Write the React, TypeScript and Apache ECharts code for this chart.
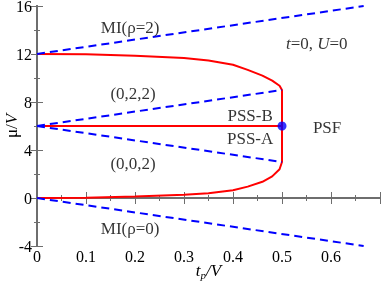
import React, { useEffect, useRef } from "react";
import * as echarts from "echarts";

const xTicks = [0, 0.1, 0.2, 0.3, 0.4, 0.5, 0.6];
const yTicks = [-4, 0, 4, 8, 12, 16];

const redUpper: [number, number][] = [
  [0, 12], [0.1, 11.97], [0.2, 11.86], [0.3, 11.67], [0.35, 11.45], [0.4, 11.1],
  [0.43, 10.68], [0.46, 10.2], [0.48, 9.78], [0.495, 9.35], [0.5, 9.0],
];
const redLower: [number, number][] = [
  [0.5, 3.0], [0.495, 2.4], [0.48, 1.8], [0.46, 1.35], [0.43, 0.95], [0.4, 0.65],
  [0.35, 0.4], [0.3, 0.28], [0.2, 0.12], [0.1, 0.03], [0, 0],
];
const redMiddle: [number, number][] = [[0, 6], [0.5, 6]];

const miRho2: [number, number][] = [[0, 12], [2 / 3, 16]];
const miRho0: [number, number][] = [[0, 0], [2 / 3, -4]];
const pss022: [number, number][] = [[0, 6], [0.5, 9]];
const pss002: [number, number][] = [[0, 6], [0.5, 3]];
const criticalPoint: [number, number][] = [[0.5, 6]];

const annotations: { text: string; pos: [number, number] }[] = [
  { text: "MI(ρ=2)", pos: [0.19, 14.25] },
  { text: "{i|t}=0, {i|U}=0", pos: [0.571, 12.9] },
  { text: "(0,2,2)", pos: [0.196, 8.67] },
  { text: "PSS-B", pos: [0.435, 6.9] },
  { text: "PSS-A", pos: [0.435, 5.0] },
  { text: "PSF", pos: [0.592, 5.9] },
  { text: "(0,0,2)", pos: [0.196, 2.9] },
  { text: "MI(ρ=0)", pos: [0.19, -2.5] },
];

const FONT = "Liberation Serif";
const RED = "#ff0000";
const BLUE = "#0000ff";
const AXIS = "#6e6e6e";

export default function App() {
  const ref = useRef<HTMLDivElement>(null);
  useEffect(() => {
    if (!ref.current) return;
    const chart = echarts.init(ref.current, undefined, { renderer: "svg" });
    const fmtX = (v: number) => {
      if (v > 0.65) return "";
      const found = xTicks.find((t) => Math.abs(t - v) < 1e-6);
      return found === undefined ? "" : found === 0 ? "0" : found.toFixed(1);
    };
    const fmtY = (v: number) => (yTicks.includes(Math.round(v)) ? String(Math.round(v)) : "");
    const axisCommon = {
      axisLine: { show: true, lineStyle: { color: AXIS, width: 2 } },
      axisTick: { show: true, inside: true, length: 6, lineStyle: { color: AXIS, width: 1 } },
      minorTick: { show: true, splitNumber: 2, length: 3, lineStyle: { color: AXIS, width: 1 } },
      splitLine: { show: false },
    };
    const dashed = (data: [number, number][]) => ({
      type: "line",
      data,
      showSymbol: false,
      symbol: "none",
      lineStyle: { color: BLUE, width: 2, type: [8, 5] },
      z: 3,
    });
    const solid = (data: [number, number][]) => ({
      type: "line",
      data,
      showSymbol: false,
      symbol: "none",
      lineStyle: { color: RED, width: 2 },
      z: 2,
    });
    chart.setOption({
      animation: false,
      textStyle: { fontFamily: FONT },
      grid: { left: 37, right: 2, top: 6, bottom: 35, containLabel: false, outerBoundsMode: "none" },
      xAxis: [
        {
          type: "value",
          min: 0,
          max: 0.7,
          interval: 0.1,
          ...axisCommon,
          axisLabel: { color: "#000", fontFamily: FONT, fontSize: 16, margin: 2, formatter: fmtX, showMaxLabel: false },
          name: "{i|t}{s|p}{i|/V}",
          nameLocation: "middle",
          nameGap: 15,
          nameMoveOverlap: false,
          nameTextStyle: {
            fontFamily: FONT,
            rich: {
              i: { fontFamily: FONT, fontStyle: "italic", fontSize: 17, color: "#000" },
              s: { fontFamily: FONT, fontStyle: "italic", fontSize: 11, color: "#000", padding: [8, 0, 0, 0] },
            },
          },
        },
        {
          type: "value",
          position: "top",
          min: 0,
          max: 0.7,
          interval: 0.1,
          ...axisCommon,
          axisLabel: { show: false },
        },
      ],
      yAxis: [
        {
          type: "value",
          min: -4,
          max: 16,
          interval: 4,
          ...axisCommon,
          axisLabel: { color: "#000", fontFamily: FONT, fontSize: 16, margin: 5, formatter: fmtY },
          name: "μ/{i|V}",
          nameLocation: "middle",
          nameGap: 17,
          nameMoveOverlap: false,
          nameRotate: 90,
          nameTextStyle: {
            fontFamily: FONT,
            fontSize: 17,
            color: "#000",
            rich: { i: { fontFamily: FONT, fontStyle: "italic", fontSize: 17, color: "#000" } },
          },
        },
        {
          type: "value",
          position: "right",
          min: -4,
          max: 16,
          interval: 4,
          ...axisCommon,
          axisLabel: { show: false },
        },
      ],
      series: [
        solid([...redUpper, ...redLower]),
        solid(redMiddle),
        dashed(miRho2),
        dashed(miRho0),
        dashed(pss022),
        dashed(pss002),
        {
          type: "scatter",
          data: criticalPoint,
          symbol: "circle",
          symbolSize: 9,
          itemStyle: { color: BLUE },
          z: 5,
        },
        {
          type: "scatter",
          symbolSize: 0,
          silent: true,
          data: annotations.map((a) => ({ value: a.pos, name: a.text })),
          label: {
            show: true,
            position: "inside",
            formatter: (p: any) => p.name,
            fontFamily: FONT,
            fontSize: 17,
            color: "#000",
            rich: { i: { fontFamily: FONT, fontStyle: "italic", fontSize: 17, color: "#000" } },
          },
          z: 6,
        },
      ],
    });
    return () => chart.dispose();
  }, []);
  return <div ref={ref} style={{ position: "fixed", left: 0, top: 0, width: 382, height: 281 }} />;
}
